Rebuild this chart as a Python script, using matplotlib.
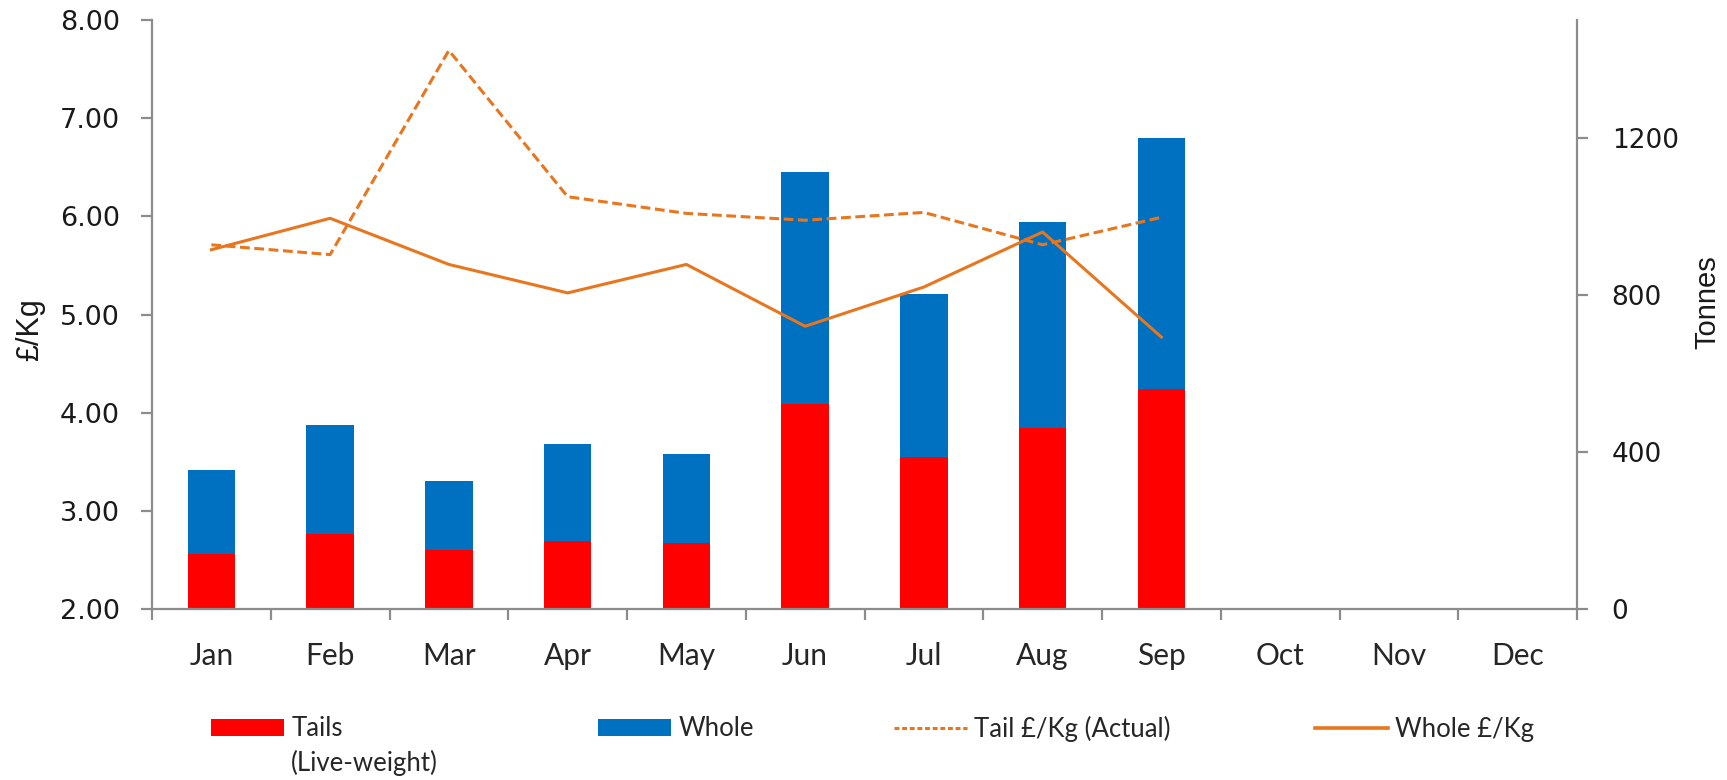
import matplotlib
matplotlib.use("Agg")
import matplotlib.pyplot as plt
from matplotlib.patches import Patch
from matplotlib.lines import Line2D
import numpy as np

months = ["Jan", "Feb", "Mar", "Apr", "May", "Jun", "Jul", "Aug", "Sep", "Oct", "Nov", "Dec"]
tails_t = [139, 190, 150, 173, 169, 521, 388, 462, 559]
whole_t = [214, 279, 176, 246, 226, 591, 413, 523, 640]
tail_price = [5.71, 5.61, 7.69, 6.20, 6.03, 5.96, 6.04, 5.71, 5.99]
whole_price = [5.66, 5.98, 5.51, 5.22, 5.51, 4.88, 5.28, 5.84, 4.77]
left_ticks = [2, 3, 4, 5, 6, 7, 8]
right_ticks = [0, 400, 800, 1200]

RED = "#FF0000"
BLUE = "#0070C0"
ORANGE = "#E8761E"
GRAY = "#8C8C8C"
TXT = "#262626"

W, H = 1727, 780
fig = plt.figure(figsize=(W / 100, H / 100), dpi=100)
ax = fig.add_axes([152 / W, 1 - 609 / H, 1425 / W, 589 / H])
ax2 = ax.twinx()
ax.set_zorder(ax2.get_zorder() + 1)
ax.patch.set_visible(False)

n = len(tails_t)
x = np.arange(n)
ax2.bar(x, tails_t, width=0.4, color=RED, zorder=2)
ax2.bar(x, whole_t, width=0.4, bottom=tails_t, color=BLUE, zorder=2)

ax.plot(x, tail_price, color=ORANGE, lw=2.2, dashes=(3.2, 1.5), zorder=3)
ax.plot(x, whole_price, color=ORANGE, lw=2.2, zorder=3)

ax.set_xlim(-0.5, len(months) - 0.5)
ax.set_ylim(2, 8)
ax2.set_ylim(0, 1500)

for a in (ax, ax2):
    for s in a.spines.values():
        s.set_visible(False)
ax.spines["left"].set_visible(True)
ax.spines["bottom"].set_visible(True)
ax2.spines["right"].set_visible(True)
for s in (ax.spines["left"], ax.spines["bottom"], ax2.spines["right"]):
    s.set_color(GRAY)
    s.set_linewidth(1.6)

ax.set_yticks(left_ticks)
ax.set_yticklabels([f"{v:.2f}" for v in left_ticks], fontsize=19.5, family="DejaVu Sans", color="#1a1a1a")
ax.tick_params(axis="y", direction="out", length=8, width=1.6, color=GRAY, pad=15)

ax2.set_yticks(right_ticks)
ax2.set_yticklabels([str(v) for v in right_ticks], fontsize=19, family="DejaVu Sans", color="#1a1a1a")
ax2.tick_params(axis="y", direction="out", length=8, width=1.6, color=GRAY, pad=17)

ax.set_xticks(np.arange(len(months)))
ax.set_xticklabels(months, fontsize=21.5, family="Lato", color=TXT)
ax.set_xticks(np.arange(len(months) + 1) - 0.5, minor=True)
ax.tick_params(axis="x", which="major", length=0, pad=24)
ax.tick_params(axis="x", which="minor", direction="out", length=8, width=1.6, color=GRAY)

ax.set_ylabel("£/Kg", fontsize=22, family="Liberation Sans", color="#1a1a1a")
ax.yaxis.set_label_coords((45 - 152) / 1425, (609 - 330) / 589)
ax2.set_ylabel("Tonnes", fontsize=21, family="Liberation Sans", color="#1a1a1a")
ax2.yaxis.set_label_coords((1693 - 152) / 1425, (609 - 302) / 589)

leg_y = 1 - 729 / H
items = [
    (Patch(facecolor=RED, edgecolor="none"), "Tails", 211),
    (Patch(facecolor=BLUE, edgecolor="none"), "Whole", 598),
    (Line2D([], [], color=ORANGE, lw=2.2, dashes=(1.6, 0.9)), "Tail £/Kg (Actual)", 894),
    (Line2D([], [], color=ORANGE, lw=2.6), "Whole £/Kg", 1315),
]
for h, lab, px in items:
    fig.legend(handles=[h], labels=[lab], loc="center left",
               bbox_to_anchor=(px / W, leg_y), frameon=False,
               borderpad=0, borderaxespad=0, handlelength=2.84,
               handleheight=0.6, handletextpad=0.28,
               prop={"family": "Lato", "size": 18.5}, labelcolor=TXT)
fig.text(291 / W, 1 - 771 / H, "(Live-weight)", family="Lato", fontsize=18.5,
         color=TXT, va="baseline", ha="left")

fig.savefig("out.png", dpi=100)
